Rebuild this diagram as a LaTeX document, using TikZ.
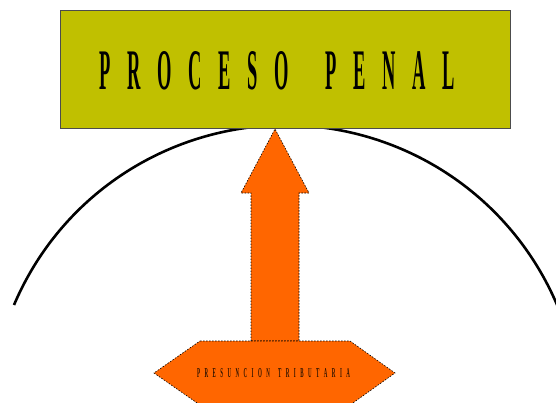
\documentclass[tikz,border=0pt]{standalone}
\usepackage{graphicx}
\usepackage{fontspec}
\setmainfont{Liberation Serif}
\usetikzlibrary{positioning}

\definecolor{olivebox}{RGB}{192,192,0}
\definecolor{arroworange}{RGB}{255,102,0}
\definecolor{labelbrown}{RGB}{50,20,0}

\begin{document}
\begin{tikzpicture}[
    x=1pt, y=1pt,
    titlebox/.style={rectangle, draw=black!70, line width=0.6pt, fill=olivebox, minimum width=450pt, minimum height=118pt, inner sep=0pt},
    dashedshape/.style={fill=arroworange, draw=black, line width=0.6pt, dash pattern=on 1.5pt off 1.5pt},
    curve/.style={line width=2.6pt, black},
    spaced/.style={inner sep=0pt, font=\bfseries}
]
\useasboundingbox (0,0) rectangle (556,402);
\clip (0,0) rectangle (556,402);

% Curve
\draw[curve] (14,97) arc[start angle=157, end angle=20, radius=295];

% Title
\node[titlebox] (proceso) at (285,333) {};
\node[spaced] (titletext) at (277.5,331) {\resizebox{355pt}{38pt}{P\hspace{0.9em}R\hspace{0.9em}O\hspace{0.9em}C\hspace{0.9em}E\hspace{0.9em}S\hspace{0.9em}O\hspace{2em}P\hspace{0.9em}E\hspace{0.9em}N\hspace{0.9em}A\hspace{0.9em}L}};

% Arrow
\draw[dashedshape] (251,61) -- (251,209) -- (241,209) -- (275,273) -- (309,209) -- (299,209) -- (299,61) -- cycle;

% Base
\draw[dashedshape] (200,61) -- (350,61) -- (395,29) -- (350,-3) -- (200,-3) -- (154,29) -- cycle;
\node[spaced, text=labelbrown] (presuncion) at (273.5,29) {\resizebox{153pt}{9pt}{P\hspace{0.9em}R\hspace{0.9em}E\hspace{0.9em}S\hspace{0.9em}U\hspace{0.9em}N\hspace{0.9em}C\hspace{0.9em}I\hspace{0.9em}O\hspace{0.9em}N\hspace{1.6em}T\hspace{0.9em}R\hspace{0.9em}I\hspace{0.9em}B\hspace{0.9em}U\hspace{0.9em}T\hspace{0.9em}A\hspace{0.9em}R\hspace{0.9em}I\hspace{0.9em}A}};

\end{tikzpicture}
\end{document}
